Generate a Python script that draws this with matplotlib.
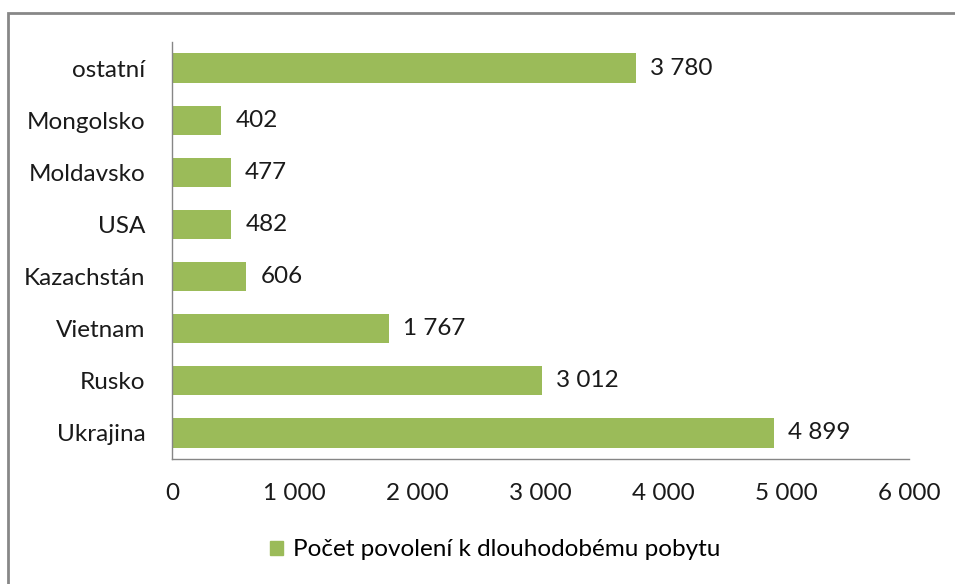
import matplotlib
matplotlib.use("Agg")
import matplotlib.pyplot as plt
from matplotlib.patches import Rectangle, Patch

# --- data ---
countries = ["Ukrajina", "Rusko", "Vietnam", "Kazachstán", "USA", "Moldavsko", "Mongolsko", "ostatní"]
permits = [4899, 3012, 1767, 606, 482, 477, 402, 3780]
x_ticks = [0, 1000, 2000, 3000, 4000, 5000, 6000]
series_name = "Počet povolení k dlouhodobému pobytu"

BAR_COLOR = "#9BBB59"
AXIS_COLOR = "#868686"
TEXT_COLOR = "#1a1a1a"
FS = 17.5


def fmt(v):
    # cislo s mezerou jako oddelovacem tisicu
    return f"{v:,}".replace(",", " ")


plt.rcParams["font.family"] = ["Lato", "DejaVu Sans"]

fig = plt.figure(figsize=(9.55, 5.84), dpi=100)
ax = fig.add_axes([172 / 955, 1 - 459 / 584, (909 - 172) / 955, (459 - 42) / 584])

# ramecek kolem celeho grafu (vpravo a dole oriznuty)
fig.patches.append(Rectangle((8 / 955, -0.05), 1.1, 1 - 13 / 584 + 0.05,
                             transform=fig.transFigure, fill=False,
                             edgecolor="#878787", linewidth=2))

y = range(len(countries))
bars = ax.barh(y, permits, height=0.56, color=BAR_COLOR)

for b, v in zip(bars, permits):
    ax.text(b.get_width() + 115, b.get_y() + b.get_height() / 2, fmt(v),
            va="center", ha="left", fontsize=FS, color=TEXT_COLOR)

ax.set_xlim(0, 6000)
ax.set_ylim(-0.5, len(countries) - 0.5)
ax.set_xticks(x_ticks)
ax.set_xticklabels([fmt(t) for t in x_ticks])
ax.set_yticks(list(y))
ax.set_yticklabels(countries)
ax.tick_params(axis="both", length=0, labelsize=FS, colors=TEXT_COLOR)
ax.tick_params(axis="x", pad=17)
ax.tick_params(axis="y", pad=19)

for s in ["top", "right"]:
    ax.spines[s].set_visible(False)
for s in ["left", "bottom"]:
    ax.spines[s].set_color(AXIS_COLOR)
    ax.spines[s].set_linewidth(1)

fig.legend(handles=[Patch(color=BAR_COLOR, label=series_name)],
           loc="center", bbox_to_anchor=(495 / 955, 1 - 550 / 584),
           frameon=False, fontsize=FS, handlelength=0.55, handleheight=0.55,
           handletextpad=0.4)

fig.savefig("out.png", dpi=100)
